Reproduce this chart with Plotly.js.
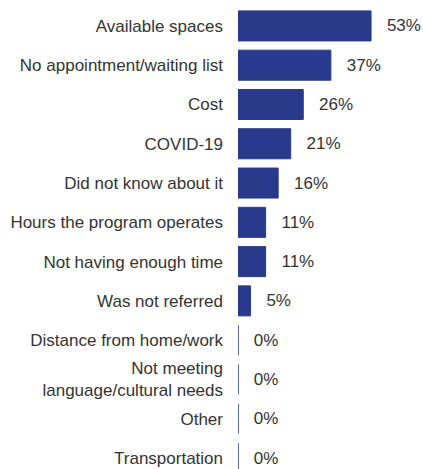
<!DOCTYPE html>
<html>
<head>
<meta charset="utf-8">
<script src="https://cdn.plot.ly/plotly-3.0.1.min.js"></script>
<style>html,body{margin:0;padding:0;background:#fff;overflow:hidden}</style>
</head>
<body>
<div id="chart" style="width:423px;height:469px"></div>
<script>
var categories = ["Available spaces","No appointment/waiting list","Cost","COVID-19","Did not know about it","Hours the program operates","Not having enough time","Was not referred","Distance from home/work","Not meeting<br>language/cultural needs","Other","Transportation"];
var values = [53,37,26,21,16,11,11,5,0,0,0,0];
var barColor = "#293a8c";

var trace = {
  type: "bar",
  orientation: "h",
  x: values,
  y: categories,
  marker: {color: barColor, line: {color: barColor, width: 1}},
  text: values.map(function(v){return "\u00a0\u00a0\u2009" + v + "%";}),
  textposition: "outside",
  textfont: {family: "Liberation Sans, Arial, sans-serif", size: 17, color: "#333333"},
  cliponaxis: false,
  hoverinfo: "none"
};

var layout = {
  width: 423, height: 469,
  margin: {l: 238, r: 0, t: 0, b: 0},
  paper_bgcolor: "#fff", plot_bgcolor: "#fff",
  showlegend: false,
  bargap: 0.236,
  font: {family: "Liberation Sans, Arial, sans-serif", size: 17, color: "#333333"},
  xaxis: {range: [0, 73.7], showgrid: false, zeroline: false, showticklabels: false, showline: false, ticks: ""},
  yaxis: {type: "category", range: [11.28, -0.66], showgrid: false, zeroline: false, showline: false, ticks: "", ticklabelstandoff: 14, tickfont: {size: 17, color: "#333333"}}
};

Plotly.newPlot("chart", [trace], layout, {displayModeBar: false, staticPlot: true});
</script>
</body>
</html>
